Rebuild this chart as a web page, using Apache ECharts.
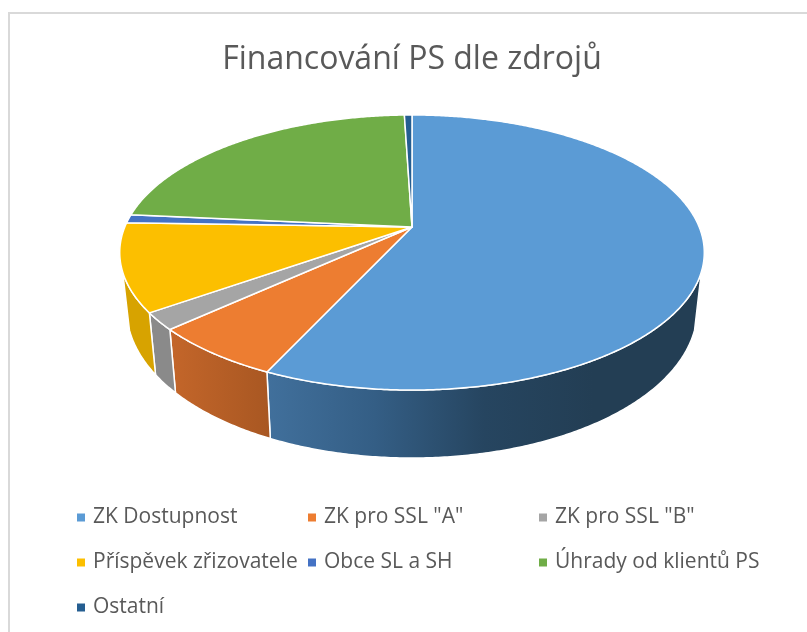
<!DOCTYPE html>
<html><head><meta charset="utf-8">
<style>html,body{margin:0;padding:0;background:#fff}#c{width:807px;height:632px}</style>
<script src="https://cdn.jsdelivr.net/npm/echarts@6/dist/echarts.min.js"></script>
</head><body><div id="c"></div>
<script>
var categories = ['ZK Dostupnost','ZK pro SSL "A"','ZK pro SSL "B"','Příspěvek zřizovatele','Obce SL a SH','Úhrady od klientů PS','Ostatní'];
var values = [56.9, 6.3, 2.0, 10.3, 1.0, 23.0, 0.5];
var topColors = ['#5b9bd5','#ed7d31','#a5a5a5','#fcbf00','#4472c4','#70ad47','#255e91'];
var wallStops = [
  ['#41709c','#345e85','#264560','#233e54','#233e54'],
  ['#c4662a','#a85722'],
  ['#8a8a8a','#8a8a8a'],
  ['#d7a300','#d7a300'],
  ['#3a5fa3','#3a5fa3'],
  ['#5e913b','#5e913b'],
  ['#1f4f7a','#1f4f7a']
];
var titleText = 'Financování PS dle zdrojů';
var legendSpots = [[77,0],[308,0],[539,0],[77,1],[308,1],[539,1],[77,2]];

// Perspective disc: maps the unit circle to the screen
var cx = 412, apexY = 227, c = 0.1855, a = -90.7, A = 287.2, A2 = 280.5;
var wallFrom = 108.6, wallTo = 251.4;
function topPt(t){
  var r = t*Math.PI/180, x = Math.sin(r), y = Math.cos(r), w = c*y+1;
  return [cx + A*x/w, (a*y+apexY)/w];
}
function botPt(t){
  var r = t*Math.PI/180, x = Math.sin(r), y = Math.cos(r), w = c*y+1;
  return [cx + A2*x/w, (a*y+apexY)/w + 53.5 - 14.5*y];
}
var total = values.reduce(function(s,v){return s+v;},0);
function renderSlice(i){
  return function(params, api){
    var before = values.slice(0,i).reduce(function(s,v){return s+v;},0);
    var t0 = before/total*360, t1 = (before+api.value(0))/total*360;
    var topPoly = [[cx,apexY]], t;
    for(t=t0;t<t1;t+=0.5) topPoly.push(topPt(t));
    topPoly.push(topPt(t1));
    var children = [];
    var w0 = Math.max(t0,wallFrom), w1 = Math.min(t1,wallTo);
    if(w1>w0){
      var upper=[], lower=[];
      for(t=w0;t<w1;t+=0.5){upper.push(topPt(t));lower.unshift(botPt(t));}
      upper.push(topPt(w1));lower.unshift(botPt(w1));
      var st = wallStops[i], stops = st.map(function(col,k){return {offset:k/(st.length-1),color:col};});
      children.push({type:'polygon',shape:{points:upper.concat(lower)},z2:1,
        style:{fill:new echarts.graphic.LinearGradient(0,0,1,0,stops),stroke:'#fff',lineWidth:1.5,lineJoin:'round'}});
    }
    children.push({type:'polygon',shape:{points:topPoly},z2:2,
      style:{fill:topColors[i],stroke:'#fff',lineWidth:1.5,lineJoin:'round'}});
    return {type:'group',children:children};
  };
}
var chart = echarts.init(document.getElementById('c'),null,{renderer:'canvas'});
chart.setOption({
  animation:false,
  backgroundColor:'#fff',
  title:{text:titleText,left:407,top:39,textAlign:'center',
    textStyle:{fontFamily:'Open Sans',fontSize:32,fontWeight:'normal',color:'#595959'}},
  graphic:[{type:'rect',silent:true,shape:{x:9,y:13,width:900,height:700},
    style:{fill:'none',stroke:'#d9d9d9',lineWidth:2}}],
  legend:categories.map(function(n,i){
    return {data:[n],left:legendSpots[i][0],top:507+legendSpots[i][1]*45,icon:'rect',itemWidth:8,itemHeight:8,
      selectedMode:false,padding:0,
      textStyle:{fontFamily:'Open Sans',fontSize:21,color:'#595959',padding:[0,0,0,3]}};
  }),
  series:categories.map(function(n,i){
    return {type:'custom',name:n,coordinateSystem:'none',silent:true,
      itemStyle:{color:topColors[i]},
      renderItem:renderSlice(i),data:[[values[i]]]};
  })
});
</script></body></html>
